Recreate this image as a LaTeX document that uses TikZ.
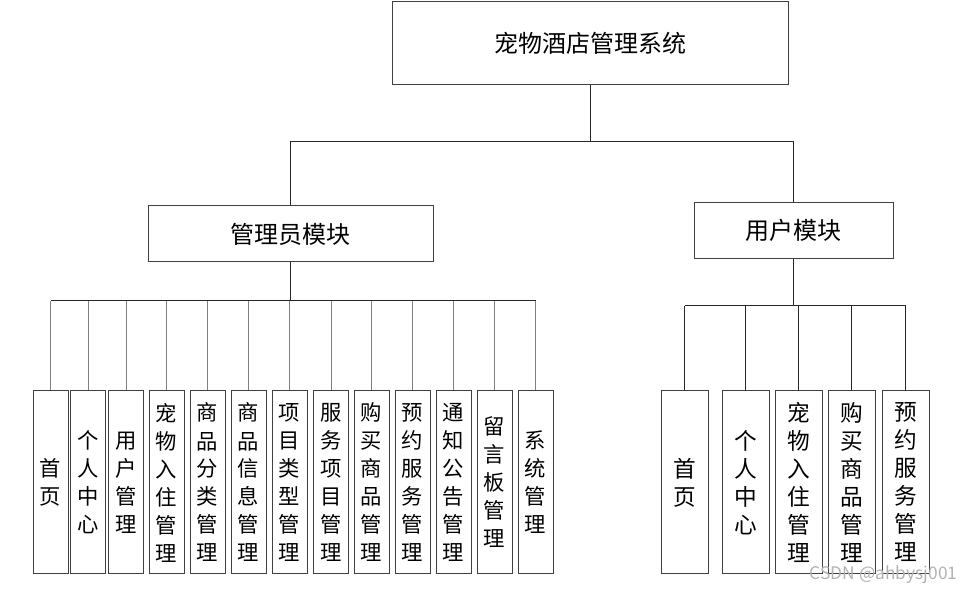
\documentclass[tikz,border=0pt]{standalone}
\usepackage{fontspec}
\setmainfont{Noto Sans CJK SC}
\usetikzlibrary{calc}

\tikzset{
  box/.style={draw=black!75, line width=0.75pt, inner sep=0pt, fill=white},
  sysbox/.style={box, minimum width=297pt, minimum height=62.25pt, font=\fontsize{18}{20}\selectfont},
  modbox/.style={box, minimum height=42pt, font=\fontsize{18}{20}\selectfont},
  leaf/.style={box, minimum width=26.25pt, minimum height=137.25pt, align=center, font=\fontsize{16}{21}\selectfont},
  uleaf/.style={leaf, minimum width=35.25pt, font=\fontsize{17}{21}\selectfont},
  link/.style={line width=0.75pt, draw=black!85},
  glink/.style={line width=0.75pt, draw=black!50},
}

\begin{document}
\begin{tikzpicture}[x=0.75pt, y=-0.75pt]
    \useasboundingbox (0,0) rectangle (965,591);

    \coordinate (tb) at (590, 142);
    \coordinate (ab) at (290.5, 301);
    \coordinate (ub) at (793.5, 306);

    \node[sysbox] (sys) at (590, 43.5) {宠物酒店管理系统};
    \node[modbox, minimum width=213.75pt] (admin) at (290.5, 234) {管理员模块};
    \node[modbox, minimum width=149.25pt] (user) at (793.5, 230.5) {用户模块};

    % admin leaves
    \foreach \i/\x/\t in {1/50.5/{首\\页}, 2/88/{个\\人\\中\\心}, 3/126/{用\\户\\管\\理},
        4/166.5/{宠\\物\\入\\住\\管\\理}, 5/207.5/{商\\品\\分\\类\\管\\理},
        6/248.5/{商\\品\\信\\息\\管\\理}, 7/289.5/{项\\目\\类\\型\\管\\理},
        8/331/{服\\务\\项\\目\\管\\理}, 9/371.5/{购\\买\\商\\品\\管\\理},
        10/412.5/{预\\约\\服\\务\\管\\理}, 11/453.5/{通\\知\\公\\告\\管\\理},
        12/494.5/{留\\言\\板\\管\\理}, 13/535.5/{系\\统\\管\\理}}
        \node[leaf] (a\i) at (\x, 482.5) {\t};

    % user leaves
    \foreach \i/\x/\t in {1/684.5/{首\\页}, 2/745.5/{个\\人\\中\\心},
        3/798.5/{宠\\物\\入\\住\\管\\理}, 4/851.5/{购\\买\\商\\品\\管\\理},
        5/905.5/{预\\约\\服\\务\\管\\理}}
        \node[uleaf] (u\i) at (\x, 482.5) {\t};

    \draw[link] (sys.south) -- (tb);
    \draw[link] (admin.north) -- (admin.north |- tb) -- (user.north |- tb) -- (user.north);

    \draw[link] (admin.south) -- (ab);
    \draw[link] (a1.north |- ab) -- (a13.north |- ab);
    \foreach \i in {1,...,13}
        \draw[glink] (a\i.north) -- (a\i.north |- ab);

    \draw[link] (user.south) -- (ub);
    \draw[link] (u1.north |- ub) -- (u5.north |- ub);
    \foreach \i in {1,...,5}
        \draw[link] (u\i.north) -- (u\i.north |- ub);

    \node[anchor=base east, font=\fontsize{13}{13}\selectfont, text=black!30] (wm) at (962, 580) {CSDN @ahbysj001};
\end{tikzpicture}
\end{document}
